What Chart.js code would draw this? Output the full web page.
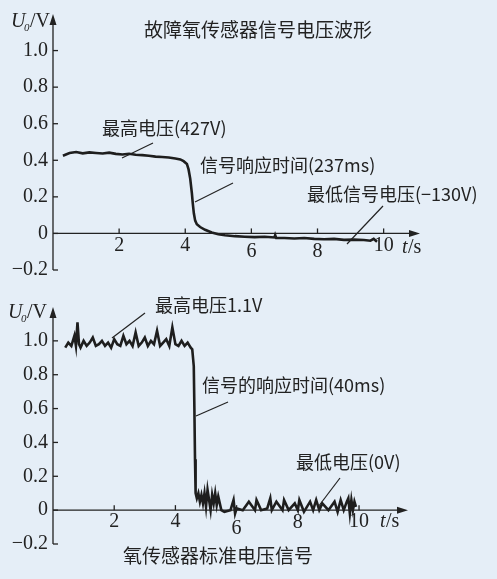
<!DOCTYPE html>
<html><head><meta charset="utf-8">
<script src="https://cdn.jsdelivr.net/npm/chart.js@4"></script>
<style>
body{margin:0;background:#e5eef7;width:497px;height:579px;position:relative;overflow:hidden}
canvas{position:absolute;left:0}
.pre{position:absolute;left:-999px;font-family:"Liberation Serif";}
.pre2{position:absolute;left:-999px;font-family:"Noto Sans CJK SC";}
</style></head><body>
<span class="pre">1.0 t/s</span><i class="pre">U t</i><span class="pre2">最高电压</span>
<canvas id="topChart" width="497" height="290" style="top:0;width:497px;height:290px"></canvas>
<canvas id="bottomChart" width="497" height="289" style="top:290px;width:497px;height:289px"></canvas>
<script>
// faulty sensor trace
const faultTimes = [0.3,0.5,0.7,0.9,1.1,1.3,1.5,1.7,1.9,2.1,2.3,2.5,2.7,2.9,3.1,3.3,3.5,3.7,3.85,3.95,4.05,4.1,4.15,4.2,4.23,4.26,4.3,4.35,4.45,4.6,4.8,5.0,5.2,5.5,5.8,6.1,6.4,6.7,6.72,6.75,7.0,7.3,7.6,7.9,8.2,8.5,8.8,9.1,9.4,9.6,9.7,9.8];
const faultVolts = [0.425,0.44,0.445,0.438,0.443,0.44,0.437,0.442,0.435,0.432,0.436,0.43,0.428,0.425,0.42,0.418,0.415,0.41,0.405,0.395,0.38,0.35,0.3,0.22,0.16,0.11,0.07,0.05,0.035,0.02,0.005,-0.005,-0.01,-0.015,-0.018,-0.02,-0.018,-0.022,-0.01,-0.025,-0.025,-0.028,-0.025,-0.03,-0.032,-0.03,-0.035,-0.034,-0.036,-0.04,-0.03,-0.045];
// standard sensor trace
const stdTimes = [0.4,0.5,0.6,0.7,0.75,0.8,0.85,0.9,1.0,1.1,1.2,1.3,1.4,1.5,1.6,1.7,1.8,1.9,2.0,2.1,2.2,2.3,2.4,2.5,2.6,2.7,2.8,2.9,3.0,3.1,3.2,3.3,3.4,3.5,3.6,3.7,3.8,3.9,4.0,4.1,4.2,4.3,4.4,4.5,4.55,4.6,4.62,4.64,4.66,4.7,4.75,4.8,4.85,4.9,4.95,5.0,5.05,5.1,5.15,5.2,5.25,5.3,5.35,5.4,5.5,5.6,5.8,5.9,5.95,6.0,6.2,6.4,6.6,6.65,6.8,7.0,7.1,7.15,7.3,7.5,7.55,7.7,7.9,8.0,8.05,8.2,8.4,8.5,8.6,8.7,8.8,9.0,9.2,9.3,9.4,9.5,9.6,9.65,9.7,9.75,9.8,9.85,9.9];
const stdVolts = [0.96,0.99,0.97,1.03,0.97,1.11,0.98,0.96,1.0,0.97,0.99,1.02,0.97,0.98,1.0,0.97,0.99,0.96,1.01,0.98,0.97,1.03,0.98,1.0,0.97,1.05,0.97,0.99,1.02,0.97,1.0,0.98,1.06,0.97,0.99,1.01,0.97,1.08,0.98,0.97,1.0,0.97,0.99,0.96,0.95,0.85,0.6,0.3,0.1,0.07,0.1,0.05,0.09,0.04,0.1,0.02,0.12,0.06,0.0,0.09,0.04,0.1,0.03,0.08,0.0,-0.01,0.0,0.06,-0.02,0.01,0.0,0.05,0.0,0.06,0.0,0.01,0.07,0.0,0.05,0.0,0.06,0.0,0.04,0.0,0.06,-0.01,0.05,0.0,0.06,0.0,0.04,0.0,0.05,-0.01,0.06,0.0,0.05,0.07,-0.02,0.06,0.0,0.05,0.02];
const yTicks = [1.0,0.8,0.6,0.4,0.2,0,-0.2];
const xTicks = [2,4,6,8,10];
const tickLabels = ['1.0','0.8','0.6','0.4','0.2','0','\u22120.2'];

const SERIF = '"Liberation Serif", "DejaVu Serif", serif';
const CJK = '"Noto Sans CJK SC", sans-serif';

function axesPlugin(cfg) {
    return {
        id: 'axes',
        afterDatasetsDraw(chart) {
            const ctx = chart.ctx;
            const xs = chart.scales.x, ys = chart.scales.y;
            const x0 = xs.getPixelForValue(0), y0 = ys.getPixelForValue(0);
            const top = chart.chartArea.top, bottom = ys.getPixelForValue(-0.2);
            const right = chart.chartArea.right;
            ctx.save();
            ctx.strokeStyle = '#222'; ctx.fillStyle = '#222'; ctx.lineWidth = 1.3;
            ctx.beginPath();
            ctx.moveTo(x0, bottom); ctx.lineTo(x0, top + 4);
            ctx.moveTo(x0, y0); ctx.lineTo(right - 4, y0);
            ctx.stroke();
            // arrows
            ctx.beginPath();
            ctx.moveTo(x0, top); ctx.lineTo(x0 - 3.5, top + 11); ctx.lineTo(x0 + 3.5, top + 11); ctx.closePath();
            ctx.moveTo(right, y0); ctx.lineTo(right - 11, y0 - 3.5); ctx.lineTo(right - 11, y0 + 3.5); ctx.closePath();
            ctx.fill();
            ctx.font = '20px ' + SERIF;
            ctx.textAlign = 'right'; ctx.textBaseline = 'middle';
            yTicks.forEach((v, i) => {
                const y = ys.getPixelForValue(v);
                ctx.beginPath(); ctx.moveTo(x0, y); ctx.lineTo(x0 + 5, y); ctx.stroke();
                ctx.fillText(tickLabels[i], x0 - 5, y);
            });
            ctx.textAlign = 'center'; ctx.textBaseline = 'top';
            xTicks.forEach((v, i) => {
                const x = xs.getPixelForValue(v);
                ctx.beginPath(); ctx.moveTo(x, y0); ctx.lineTo(x, y0 - 5); ctx.stroke();
                ctx.fillText(String(v), x, y0 + cfg.xLabelDrop[i]);
            });
            // axis titles
            ctx.textAlign = 'left'; ctx.textBaseline = 'middle';
            ctx.font = 'italic 20px ' + SERIF;
            ctx.fillText('U', cfg.uPos[0], cfg.uPos[1]);
            ctx.font = 'italic 11px ' + SERIF;
            ctx.fillText('0', cfg.uPos[0] + 13, cfg.uPos[1] + 6);
            ctx.font = '20px ' + SERIF;
            ctx.fillText('/V', cfg.uPos[0] + 19, cfg.uPos[1]);
            ctx.font = 'italic 20px ' + SERIF;
            ctx.fillText('t', cfg.tPos[0], cfg.tPos[1]);
            ctx.font = '20px ' + SERIF;
            ctx.fillText('/s', cfg.tPos[0] + 6, cfg.tPos[1]);
            // annotations
            ctx.lineWidth = 1.2;
            cfg.notes.forEach(n => {
                ctx.font = (n.size || 18) + 'px ' + CJK;
                ctx.textAlign = 'left';
                ctx.fillText(n.text, n.x, n.y);
                if (n.line) {
                    ctx.beginPath(); ctx.moveTo(n.line[0], n.line[1]); ctx.lineTo(n.line[2], n.line[3]); ctx.stroke();
                }
            });
            ctx.restore();
        }
    };
}

function makeChart(id, times, volts, xMax, padding, cfg) {
    return new Chart(document.getElementById(id), {
        type: 'line',
        data: { datasets: [{
            data: times.map((t, i) => ({ x: t, y: volts[i] })),
            borderColor: '#1e1e1e', borderWidth: 2.6, pointRadius: 0, tension: 0
        }] },
        options: {
            responsive: false, animation: false,
            layout: { padding: padding },
            plugins: { legend: { display: false }, tooltip: { enabled: false } },
            scales: {
                x: { type: 'linear', min: 0, max: xMax, display: false },
                y: { min: -0.2, max: 1.2, display: false }
            }
        },
        plugins: [axesPlugin(cfg)]
    });
}

function draw() {
    makeChart('topChart', faultTimes, faultVolts, 11.1, { left: 53, right: 77, top: 14, bottom: 20 }, {
        xLabelDrop: [2, 2, 8, 8, 2],
        uPos: [11, 22], tPos: [402, 248],
        notes: [
            { text: '故障氧传感器信号电压波形', x: 144, y: 30, size: 19 },
            { text: '最高电压(427V)', x: 102, y: 128, line: [153, 143, 122, 158] },
            { text: '信号响应时间(237ms)', x: 200, y: 165, line: [233, 183, 195, 202] },
            { text: '最低信号电压(\u2212130V)', x: 307, y: 194, line: [383, 206, 347, 244] }
        ]
    });
    makeChart('bottomChart', stdTimes, stdVolts, 11.6, { left: 53, right: 89, top: 17, bottom: 35 }, {
        xLabelDrop: [2, 2, 9, 3, 2],
        uPos: [8, 23], tPos: [380, 232],
        notes: [
            { text: '最高电压1.1V', x: 155, y: 15, line: [145, 23, 112, 48] },
            { text: '信号的响应时间(40ms)', x: 202, y: 95, line: [228, 112, 196, 126] },
            { text: '最低电压(0V)', x: 296, y: 172, line: [340, 188, 318, 217] },
            { text: '氧传感器标准电压信号', x: 123, y: 266, size: 19 }
        ]
    });
}

Promise.all([
    document.fonts.load('20px "Liberation Serif"'),
    document.fonts.load('italic 20px "Liberation Serif"'),
    document.fonts.load('18px "Noto Sans CJK SC"')
]).then(draw, draw);
</script>
</body></html>
